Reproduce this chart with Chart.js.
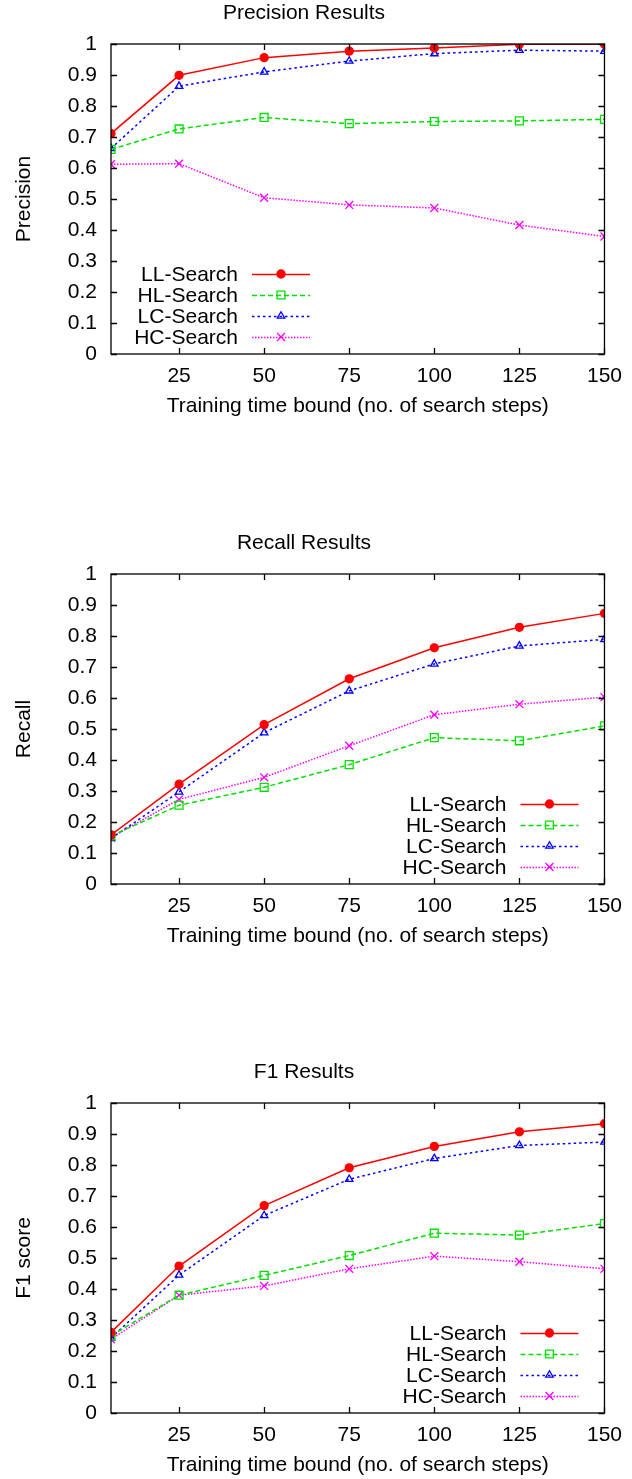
<!DOCTYPE html>
<html>
<head>
<meta charset="utf-8">
<script src="https://cdn.jsdelivr.net/npm/chart.js@4"></script>
<style>
html, body { margin: 0; padding: 0; background: #fff; overflow: hidden; }
.panel { position: absolute; left: 0; width: 632px; height: 420px; }
</style>
</head>
<body>
<div class="panel" style="top:0px"><canvas id="precisionChart"></canvas></div>
<div class="panel" style="top:530px"><canvas id="recallChart"></canvas></div>
<div class="panel" style="top:1059px"><canvas id="f1Chart"></canvas></div>
<script>
// training time bound (x values) and ticks
const steps = [5, 25, 50, 75, 100, 125, 150];
const xTicks = [25, 50, 75, 100, 125, 150];
const yTicks = [0, 0.1, 0.2, 0.3, 0.4, 0.5, 0.6, 0.7, 0.8, 0.9, 1];
const yTickLabels = ['0', '0.1', '0.2', '0.3', '0.4', '0.5', '0.6', '0.7', '0.8', '0.9', '1'];
const seriesNames = ['LL-Search', 'HL-Search', 'LC-Search', 'HC-Search'];

// precision
const precisionLL = [0.711, 0.899, 0.956, 0.977, 0.987, 0.999, 0.999];
const precisionHL = [0.660, 0.726, 0.763, 0.743, 0.750, 0.752, 0.757];
const precisionLC = [0.663, 0.864, 0.910, 0.945, 0.969, 0.980, 0.977];
const precisionHC = [0.612, 0.614, 0.504, 0.481, 0.471, 0.416, 0.379];

// recall
const recallLL = [0.158, 0.322, 0.514, 0.662, 0.762, 0.828, 0.873];
const recallHL = [0.155, 0.254, 0.312, 0.385, 0.472, 0.462, 0.510];
const recallLC = [0.147, 0.297, 0.488, 0.623, 0.710, 0.768, 0.789];
const recallHC = [0.150, 0.273, 0.344, 0.446, 0.546, 0.580, 0.603];

// f1
const f1LL = [0.260, 0.474, 0.669, 0.791, 0.860, 0.907, 0.933];
const f1HL = [0.249, 0.380, 0.444, 0.508, 0.580, 0.574, 0.611];
const f1LC = [0.242, 0.445, 0.637, 0.754, 0.821, 0.863, 0.874];
const f1HC = [0.238, 0.380, 0.410, 0.465, 0.506, 0.488, 0.465];

const FONT = 'Liberation Sans, Arial, Helvetica, sans-serif';
const FSIZE = 21;

const styles = [
    { color: '#ff0000', dash: [], point: 'circle', radius: 4, fill: '#ff0000' },
    { color: '#00e000', dash: [5, 3], point: 'rect', radius: 5.6, fill: 'rgba(0,0,0,0)' },
    { color: '#0000ff', dash: [2.5, 3], point: 'triangle', radius: 4.3, fill: 'rgba(0,0,0,0)' },
    { color: '#ff00ff', dash: [1.5, 1.5], point: 'crossRot', radius: 5.6, fill: 'rgba(0,0,0,0)' }
];

// legend marker, same shapes as the chart points
function drawMarker(ctx, style, x, y) {
    ctx.save();
    ctx.setLineDash([]);
    ctx.strokeStyle = style.color;
    ctx.fillStyle = style.fill;
    ctx.lineWidth = 1.3;
    if (Chart.helpers && Chart.helpers.drawPoint) {
        Chart.helpers.drawPoint(ctx, { pointStyle: style.point, radius: style.radius, borderWidth: 1.3, rotation: 0 }, x, y);
    } else {
        ctx.beginPath();
        ctx.arc(x, y, style.radius, 0, Math.PI * 2);
        ctx.fill();
        ctx.stroke();
    }
    ctx.restore();
}

// frame with inward ticks on all four sides, like gnuplot
const framePlugin = {
    id: 'frame',
    afterDatasetsDraw(chart) {
        const { ctx, chartArea: a, scales } = chart;
        ctx.save();
        ctx.strokeStyle = '#000';
        ctx.lineWidth = 1.3;
        ctx.strokeRect(a.left, a.top, a.right - a.left, a.bottom - a.top);
        ctx.beginPath();
        xTicks.forEach(v => {
            const px = Math.round(scales.x.getPixelForValue(v)) + 0.5;
            ctx.moveTo(px, a.bottom); ctx.lineTo(px, a.bottom - 6);
            ctx.moveTo(px, a.top); ctx.lineTo(px, a.top + 6);
        });
        yTicks.forEach(v => {
            const py = Math.round(scales.y.getPixelForValue(v)) + 0.5;
            ctx.moveTo(a.left, py); ctx.lineTo(a.left + 6, py);
            ctx.moveTo(a.right, py); ctx.lineTo(a.right - 6, py);
        });
        ctx.stroke();
        ctx.restore();
    }
};

// gnuplot-style key: right-aligned text, then line sample with marker
const keyPlugin = {
    id: 'gkey',
    afterDatasetsDraw(chart, args, opts) {
        const { ctx, chartArea: a } = chart;
        const textRight = opts.corner === 'left' ? a.left + 127 : a.right - 98;
        ctx.save();
        ctx.font = FSIZE + 'px ' + FONT;
        ctx.textAlign = 'right';
        ctx.textBaseline = 'middle';
        chart.data.datasets.forEach((ds, i) => {
            const y = a.top + 230 + i * 21;
            const st = styles[i];
            ctx.fillStyle = '#000';
            ctx.fillText(ds.label, textRight, y + 1);
            ctx.strokeStyle = st.color;
            ctx.lineWidth = 1.5;
            ctx.setLineDash(st.dash);
            ctx.beginPath();
            ctx.moveTo(textRight + 14, y + 0.5);
            ctx.lineTo(textRight + 72, y + 0.5);
            ctx.stroke();
            drawMarker(ctx, st, textRight + 43, y);
        });
        ctx.restore();
    }
};

function makeChart(id, title, yTitle, series, corner) {
    const datasets = series.map((vals, i) => ({
        label: seriesNames[i],
        data: steps.map((s, j) => ({ x: s, y: vals[j] })),
        borderColor: styles[i].color,
        backgroundColor: styles[i].fill,
        borderDash: styles[i].dash,
        borderWidth: 1.5,
        pointStyle: styles[i].point,
        pointRadius: styles[i].radius,
        pointBorderWidth: 1.3,
        pointBorderColor: styles[i].color,
        pointBackgroundColor: styles[i].fill,
        tension: 0
    }));
    return new Chart(document.getElementById(id), {
        type: 'line',
        data: { datasets: datasets },
        options: {
            responsive: true,
            maintainAspectRatio: false,
            animation: false,
            layout: { padding: { left: 0, right: 24, top: 0, bottom: 0 } },
            plugins: {
                legend: { display: false },
                tooltip: { enabled: false },
                title: {
                    display: true,
                    text: title,
                    color: '#000',
                    font: { family: FONT, size: FSIZE, weight: 'normal', lineHeight: 1.2 },
                    padding: { top: 1, bottom: 17.8 }
                },
                gkey: { corner: corner }
            },
            scales: {
                x: {
                    type: 'linear',
                    min: 5,
                    max: 150,
                    afterBuildTicks: s => { s.ticks = xTicks.map(v => ({ value: v })); },
                    afterFit: s => { s.height = 66; },
                    grid: { display: false, drawTicks: false },
                    border: { display: false },
                    ticks: {
                        color: '#000',
                        font: { family: FONT, size: FSIZE },
                        padding: 10,
                        maxRotation: 0,
                        autoSkip: false
                    },
                    title: {
                        display: true,
                        text: 'Training time bound (no. of search steps)',
                        color: '#000',
                        font: { family: FONT, size: FSIZE },
                        padding: { top: 0, bottom: 1 }
                    }
                },
                y: {
                    min: 0,
                    max: 1,
                    afterBuildTicks: s => { s.ticks = yTicks.map(v => ({ value: v })); },
                    afterFit: s => { s.width = 111; },
                    grid: { display: false, drawTicks: false },
                    border: { display: false },
                    ticks: {
                        color: '#000',
                        font: { family: FONT, size: FSIZE },
                        padding: 14,
                        autoSkip: false,
                        callback: (v, i) => yTickLabels[i]
                    },
                    title: {
                        display: true,
                        text: yTitle,
                        color: '#000',
                        font: { family: FONT, size: FSIZE },
                        padding: { top: 12, bottom: 0 }
                    }
                }
            }
        },
        plugins: [framePlugin, keyPlugin]
    });
}

makeChart('precisionChart', 'Precision Results', 'Precision',
    [precisionLL, precisionHL, precisionLC, precisionHC], 'left');
makeChart('recallChart', 'Recall Results', 'Recall',
    [recallLL, recallHL, recallLC, recallHC], 'right');
makeChart('f1Chart', 'F1 Results', 'F1 score',
    [f1LL, f1HL, f1LC, f1HC], 'right');
</script>
</body>
</html>
